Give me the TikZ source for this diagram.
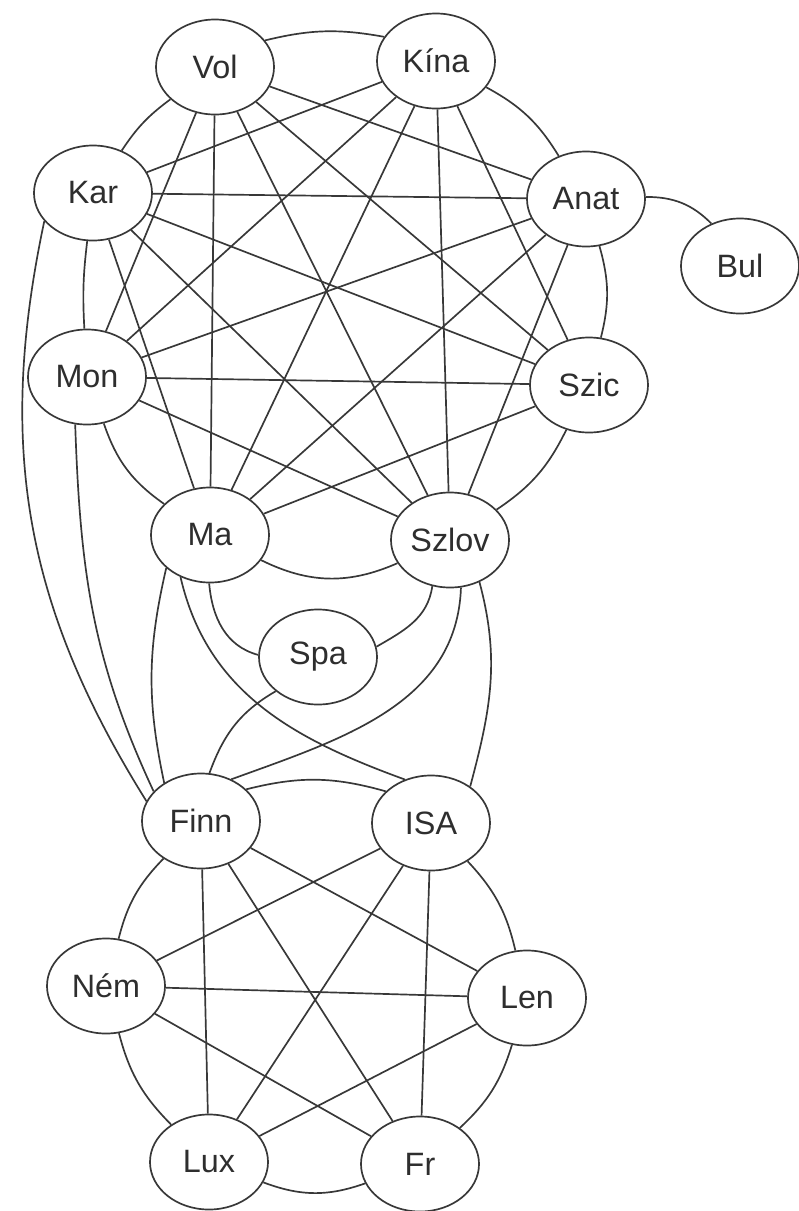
\documentclass[tikz,border=0pt]{standalone}
\usepackage{fontspec}
\setmainfont{Liberation Sans}
\usepackage{tikz}
\usetikzlibrary{positioning,calc,shapes.geometric}
\tikzset{
	orszag/.style={ellipse, draw=black!78, line width=1.2pt, minimum width=2.95cm, minimum height=2.375cm, inner sep=0pt, text=black!82, font=\fontsize{23}{27}\selectfont},
	kapcs/.style={draw=black!78, line width=1.2pt}
}

\begin{document}
\begin{tikzpicture}[x=0.025cm,y=0.025cm]
			\useasboundingbox (0,0) rectangle (798,-1211);
			\node[orszag] (vol) at (215,-67){Vol};
			\node[orszag] (kina) at (436,-61){Kína};
			\node[orszag] (kar) at (93,-193){Kar};
			\node[orszag] (anat) at (586,-199){Anat};
			\node[orszag] (bul) at (740,-266){Bul};
			\node[orszag] (mon) at (87,-377){Mon};
			\node[orszag] (szic) at (589,-385){Szic};
			\node[orszag] (ma) at (210,-535){Ma};
			\node[orszag] (szlov) at (450,-540){Szlov};
			\node[orszag] (spa) at (318,-657){Spa};
			\node[orszag] (finn) at (201,-821){Finn};
			\node[orszag] (isa) at (431,-823){ISA};
			\node[orszag] (nem) at (106,-986){Ném};
			\node[orszag] (len) at (527,-998){Len};
			\node[orszag] (lux) at (209,-1162){Lux};
			\node[orszag] (fr) at (420,-1164){Fr};

			\draw[kapcs] (vol.28) to[bend left=12] (kina.155);
			\draw[kapcs] (kina) to[bend left=15] (anat);
			\draw[kapcs] (anat) to[bend left=15] (szic);
			\draw[kapcs] (szic) to[bend left=15] (szlov);
			\draw[kapcs] (szlov) to[bend left=25] (ma);
			\draw[kapcs] (ma) to[bend left=18] (mon);
			\draw[kapcs] (mon) to[bend left=5] (kar);
			\draw[kapcs] (kar) to[bend left=10] (vol);

			\draw[kapcs] (vol) -- (anat) (vol) -- (szic) (vol) -- (szlov) (vol) -- (ma) (vol) -- (mon);
			\draw[kapcs] (kina) -- (kar) (kina) -- (szic) (kina) -- (szlov) (kina) -- (ma) (kina) -- (mon);
			\draw[kapcs] (kar) -- (anat) (kar) -- (szic) (kar) -- (szlov) (kar) -- (ma);
			\draw[kapcs] (anat) -- (szlov) (anat) -- (ma) (anat) -- (mon);
			\draw[kapcs] (szic) -- (ma) (szic) -- (mon) (szlov) -- (mon);

			\draw[kapcs] (anat.2) to[out=0,in=135] (bul.124);

			\draw[kapcs] (kar.210) to[out=258,in=122] (finn.160);
			\draw[kapcs] (mon.256) to[out=272,in=115] (finn.148);
			\draw[kapcs] (ma.217) to[out=257,in=102] (finn.134);
			\draw[kapcs] (spa.219) to[out=210,in=70] (finn.80);
			\draw[kapcs] (szlov.283) to[out=268,in=20] (finn.54);
			\draw[kapcs] (szlov.305) to[out=285,in=75] (isa.43);
			\draw[kapcs] (szlov.249) to[out=262,in=30] (spa.10);
			\draw[kapcs] (ma.269) to[out=275,in=165] (spa.178);
			\draw[kapcs] (ma.235) to[out=283,in=160] (isa.121);

			\draw[kapcs] (finn.35) to[bend left=15] (isa.145);
			\draw[kapcs] (isa) to[bend left=15] (len);
			\draw[kapcs] (len) to[bend left=15] (fr);
			\draw[kapcs] (fr) to[bend left=20] (lux);
			\draw[kapcs] (lux) to[bend left=15] (nem);
			\draw[kapcs] (nem) to[bend left=15] (finn);

			\draw[kapcs] (finn) -- (len) (finn) -- (fr) (finn) -- (lux);
			\draw[kapcs] (isa) -- (nem) (isa) -- (lux) (isa) -- (fr);
			\draw[kapcs] (nem) -- (len) (nem) -- (fr) (len) -- (lux);
		\end{tikzpicture}
\end{document}
